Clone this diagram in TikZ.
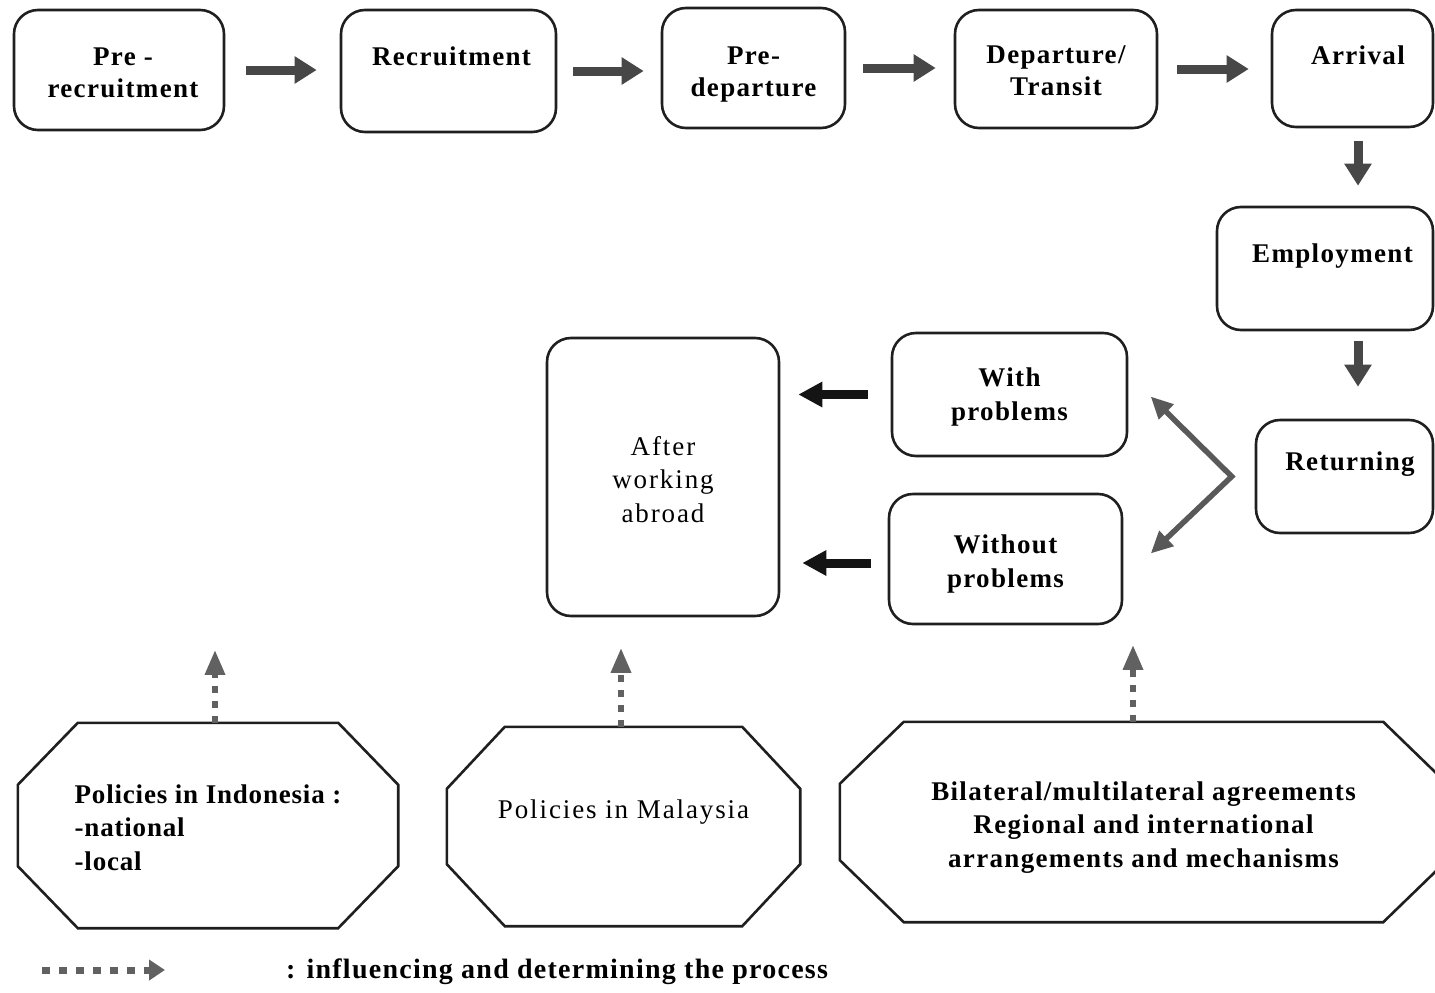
\documentclass[tikz,border=0pt]{standalone}
\usepackage{fontspec}
\setmainfont{Liberation Serif}
\newfontfamily\spacedA[LetterSpace=5]{Liberation Serif}
\newfontfamily\spacedB[LetterSpace=7]{Liberation Serif}
\newfontfamily\spacedC[LetterSpace=3]{Liberation Serif}
\newfontfamily\spacedD[LetterSpace=4.5]{Liberation Serif}
\usetikzlibrary{arrows.meta,calc}
\newcommand\octoshape[3]{%
  \draw[octline] ($(#1.north west)+(#2,0)$) -- ($(#1.north east)+(-#2,0)$)
    -- ($(#1.north east)+(0,#3)$) -- ($(#1.south east)+(0,-#3)$)
    -- ($(#1.south east)+(-#2,0)$) -- ($(#1.south west)+(#2,0)$)
    -- ($(#1.south west)+(0,-#3)$) -- ($(#1.north west)+(0,#3)$) -- cycle;}
\newcommand\fl[1]{\rule{0pt}{#1pt}}
\newcommand\lastln{\rule[-10pt]{0pt}{10pt}}
\begin{document}
\begin{tikzpicture}[x=1pt,y=-1pt,
  box/.style={draw=black!88, line width=2.6pt, rounded corners=24pt, inner sep=0pt,
    align=center, text=black, font=\spacedA\bfseries\fontsize{27}{32}\selectfont},
  boxreg/.style={box, font=\spacedB\fontsize{27}{33.5}\selectfont},
  octbox/.style={inner sep=0pt, align=center, text=black},
  octline/.style={draw=black!88, line width=2.6pt, line join=miter},
  bigarr/.style={line width=9pt, draw=black!72, -{Triangle[length=22pt,width=26pt]}},
  blkarr/.style={line width=9pt, draw=black!92, -{Triangle[length=24pt,width=24pt]}},
  chev/.style={line width=5.5pt, draw=black!65, line join=miter,
    {Triangle[length=22pt,width=20pt]}-{Triangle[length=22pt,width=20pt]}},
  dotarr/.style={line width=6pt, draw=black!62, dash pattern=on 7pt off 8pt,
    -{Triangle[length=25pt,width=19pt]}}
]
\useasboundingbox (0,0) rectangle (1435,993);

% top row
\node[box, minimum width=210pt, minimum height=120pt] (pre) at (119,70) {\fl{32}\hspace*{8pt}Pre -\\\hspace*{8pt}recruitment\lastln};
\node[box, minimum width=215pt, minimum height=122pt] (rec) at (448.5,71) {\fl{30}\hspace*{6pt}Recruitment\\\lastln};
\node[box, minimum width=183pt, minimum height=120pt] (pdep) at (753.5,68) {\fl{34}Pre-\\departure\lastln};
\node[box, minimum width=202pt, minimum height=118pt] (dep) at (1056,69) {\fl{30}Departure/\\Transit\lastln};
\node[box, minimum width=161pt, minimum height=117pt] (arr) at (1352.5,68.5) {\fl{33}\hspace*{11pt}Arrival\\\lastln};
% right column
\node[box, minimum width=216pt, minimum height=123pt] (emp) at (1325,268.5) {\fl{29}\hspace*{15pt}Employment\\\lastln};
\node[box, minimum width=177pt, minimum height=113pt] (ret) at (1344.5,476.5) {\fl{29}\hspace*{11pt}Returning\\\lastln};
% middle
\node[box, minimum width=235pt, minimum height=123pt, font=\spacedA\bfseries\fontsize{27}{34}\selectfont] (wp) at (1009.5,394.5) {\fl{28}With\\problems\lastln};
\node[box, minimum width=233pt, minimum height=130pt, font=\spacedA\bfseries\fontsize{27}{34}\selectfont] (wop) at (1005.5,559) {\fl{32}Without\\problems\lastln};
\node[boxreg, minimum width=232pt, minimum height=278pt] (after) at (663,477) {\fl{33}After\\working\\abroad\lastln};

% octagons
\node[octbox, align=left, minimum width=380pt, minimum height=205pt,
  font=\spacedC\bfseries\fontsize{27}{33.5}\selectfont] (indo) at (208,825.5)
  {\fl{32}Policies in Indonesia :\\-national\\-local\lastln};
\octoshape{indo}{60}{62}
\node[octbox, minimum width=353pt, minimum height=199pt,
  font=\spacedB\fontsize{27}{32}\selectfont] (mal) at (623.5,826.5)
  {\fl{25}Policies in Malaysia\\\lastln};
\octoshape{mal}{58}{62}
\node[octbox, minimum width=607pt, minimum height=200pt,
  font=\spacedA\bfseries\fontsize{27}{33.5}\selectfont] (bil) at (1143.5,822)
  {\fl{33}Bilateral/multilateral agreements\\Regional and international\\arrangements and mechanisms\lastln};
\octoshape{bil}{64}{62}

% top arrows
\draw[bigarr, shorten <=21pt, shorten >=23pt] (pre.east) -- (pre.east -| rec.west);
\draw[bigarr, shorten <=16pt, shorten >=17pt] (rec.east) -- (rec.east -| pdep.west);
\draw[bigarr, shorten <=17pt, shorten >=18pt] (pdep.east) -- (pdep.east -| dep.west);
\draw[bigarr, shorten <=19pt, shorten >=22pt] (dep.east) -- (dep.east -| arr.west);
% down arrows
\draw[bigarr, shorten <=13pt, shorten >=20pt] ([xshift=5.5pt]arr.south) -- ([xshift=5.5pt]arr.south |- emp.north);
\draw[bigarr, shorten <=10pt, shorten >=32pt] ([xshift=5.5pt]arr.south |- emp.south) -- ([xshift=5.5pt]arr.south |- ret.north);
% left arrows
\draw[blkarr, shorten <=23pt, shorten >=18pt] (wp.west) -- (wp.west -| after.east);
\draw[blkarr, shorten <=17pt, shorten >=22pt] ([yshift=-4pt]wop.west) -- ([yshift=-4pt]wop.west -| after.east);
% chevron
\coordinate (vtx) at ([xshift=-23pt]ret.west);
\draw[chev] ($(vtx)+(-81,-80)$) -- (vtx) -- ($(vtx)+(-81,77)$);

% influence arrows
\draw[dotarr] ([xshift=7pt]indo.north) -- ++(0,-73);
\draw[dotarr] ([xshift=-2.5pt]mal.north) -- ++(0,-79);
\draw[dotarr] ([xshift=-10.5pt]bil.north) -- ++(0,-77);

% legend
\coordinate (legA) at (42,970);
\coordinate (legB) at (165,970);
\draw[dotarr, line width=7pt, dash pattern=on 8pt off 9pt, -{Triangle[length=16pt,width=20pt]}] (legA) -- (legB);
\node[anchor=west, inner sep=0pt, font=\spacedD\bfseries\fontsize{28}{32}\selectfont] (legtext) at (286,972)
  {: influencing and determining the process};
\end{tikzpicture}
\end{document}
